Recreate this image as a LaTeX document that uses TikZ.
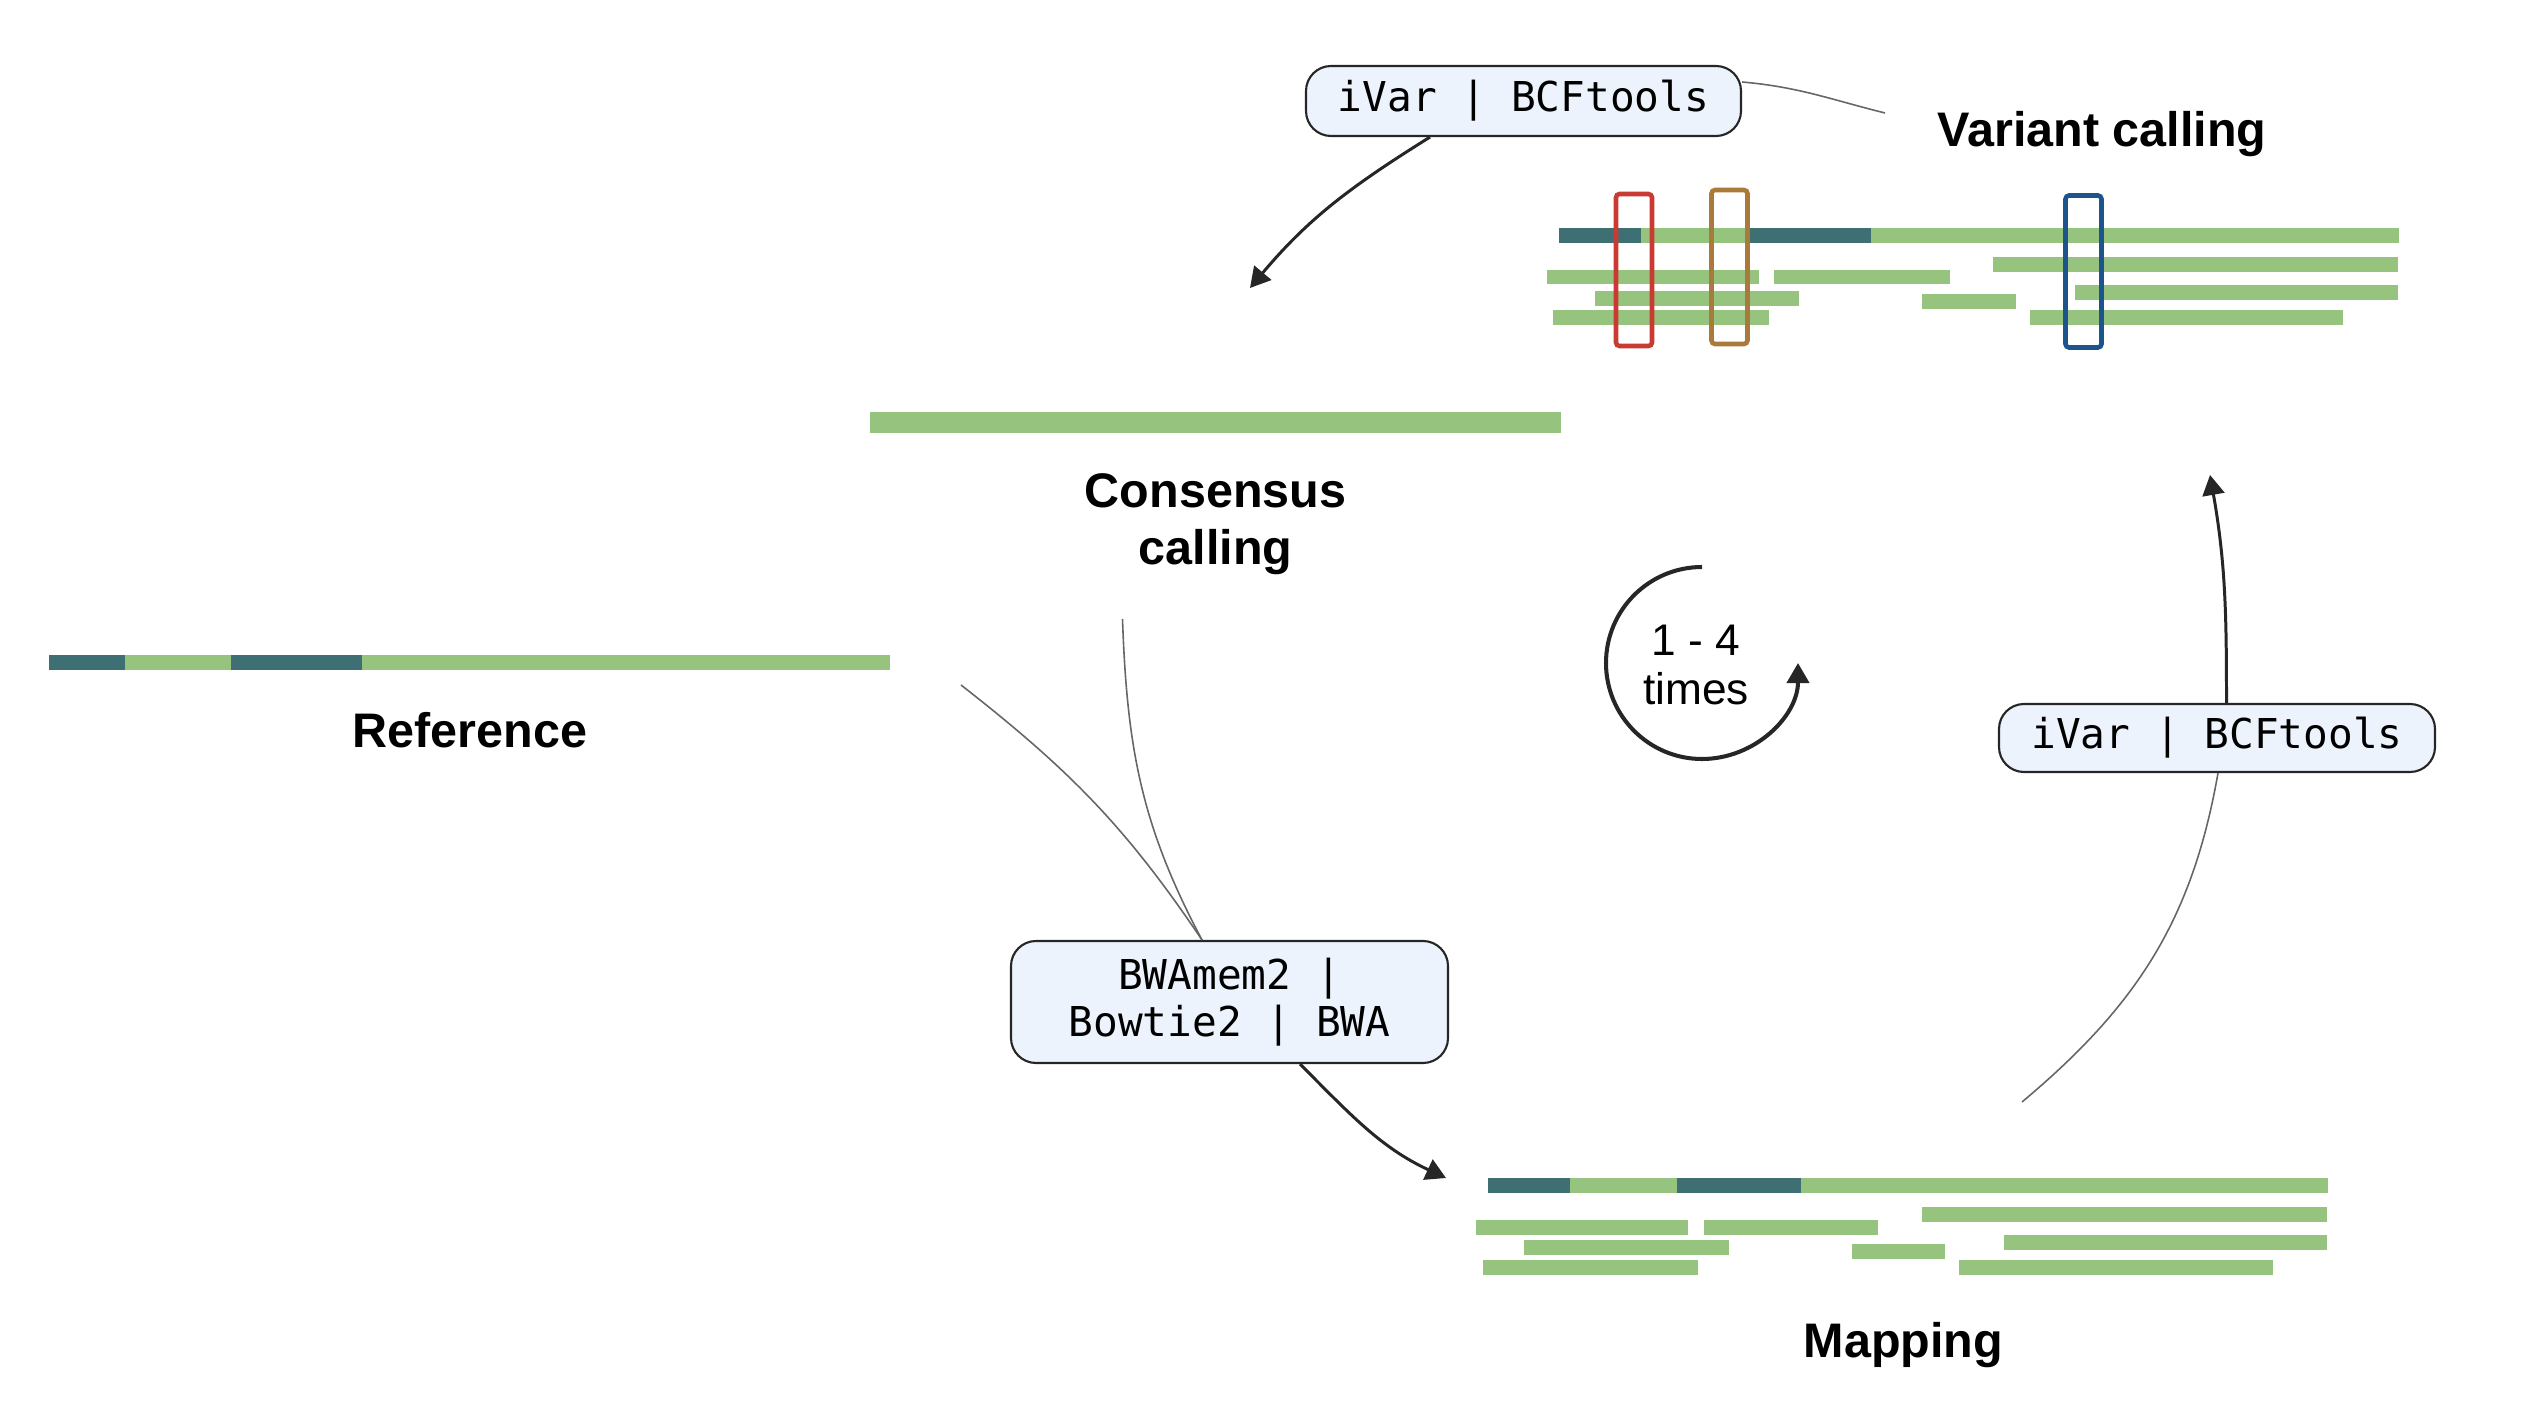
\documentclass[tikz,border=0pt]{standalone}
\usepackage{fontspec}
\setmainfont{Liberation Sans}
\setmonofont{DejaVu Sans Mono}
\usepackage{tikz}
\usetikzlibrary{arrows.meta}
\usetikzlibrary{positioning}

\definecolor{readgreen}{RGB}{150,196,127}
\definecolor{readteal}{RGB}{62,112,115}
\definecolor{snpred}{RGB}{200,58,50}
\definecolor{snporange}{RGB}{170,122,58}
\definecolor{snpblue}{RGB}{28,84,140}
\definecolor{toolfill}{RGB}{236,243,252}

\tikzset{
  readbar/.style={rectangle, inner sep=0pt, outer sep=0pt, minimum height=0.15cm, anchor=west},
  greenbar/.style={readbar, fill=readgreen},
  tealbar/.style={readbar, fill=readteal},
  snpbox/.style={rectangle, line width=1.3pt, rounded corners=1pt, minimum width=0.36cm, minimum height=1.52cm},
  toolbox/.style={rectangle, draw=black!85, line width=0.6pt, fill=toolfill, rounded corners=0.25cm, align=center, minimum width=4.35cm, font=\fontsize{11.7pt}{13.4pt}\selectfont\ttfamily},
  steplabel/.style={align=center, font=\fontsize{13.8pt}{16.3pt}\selectfont\bfseries},
  tail/.style={line width=0.45pt, black!60},
  flow/.style={line width=0.85pt, black!85}
}

\begin{document}
\begin{tikzpicture}

\useasboundingbox (0,0) rectangle (25.22,14.16);

\node at (0.49,7.535)[tealbar, minimum width=0.76cm] (ref1) {};
\node at (1.25,7.535)[greenbar, minimum width=1.06cm] (ref2) {};
\node at (2.31,7.535)[tealbar, minimum width=1.31cm] (ref3) {};
\node at (3.62,7.535)[greenbar, minimum width=5.28cm] (ref4) {};
\node at (4.70,6.86)[steplabel] (reflabel) {Reference};

\node at (8.70,9.935)[greenbar, minimum width=6.91cm, minimum height=0.21cm] (cons) {};
\node at (12.155,8.92)[steplabel] (conslabel) {Consensus\\calling};

\node at (15.59,11.805)[tealbar, minimum width=0.82cm] (v0a) {};
\node at (16.41,11.805)[greenbar, minimum width=1.08cm] (v0b) {};
\node at (17.49,11.805)[tealbar, minimum width=1.22cm] (v0c) {};
\node at (18.71,11.805)[greenbar, minimum width=5.28cm] (v0d) {};
\node at (19.93,11.515)[greenbar, minimum width=4.05cm] (v1a) {};
\node at (15.47,11.39)[greenbar, minimum width=2.12cm] (v2a) {};
\node at (17.74,11.39)[greenbar, minimum width=1.76cm] (v2b) {};
\node at (20.75,11.235)[greenbar, minimum width=3.23cm] (v3a) {};
\node at (15.95,11.18)[greenbar, minimum width=2.04cm] (v3b) {};
\node at (19.22,11.145)[greenbar, minimum width=0.94cm] (v3c) {};
\node at (15.53,10.985)[greenbar, minimum width=2.16cm] (v4a) {};
\node at (20.30,10.985)[greenbar, minimum width=3.13cm] (v4b) {};
\node at (16.34,11.46)[snpbox, draw=snpred] (snp1) {};
\node at (17.295,11.49)[snpbox, draw=snporange, minimum height=1.54cm] (snp2) {};
\node at (20.835,11.445)[snpbox, draw=snpblue] (snp3) {};
\node at (21.02,12.82)[steplabel] (varlabel) {Variant calling};

\node at (14.88,2.305)[tealbar, minimum width=0.82cm] (m0a) {};
\node at (15.70,2.305)[greenbar, minimum width=1.07cm] (m0b) {};
\node at (16.77,2.305)[tealbar, minimum width=1.24cm] (m0c) {};
\node at (18.01,2.305)[greenbar, minimum width=5.27cm] (m0d) {};
\node at (19.22,2.02)[greenbar, minimum width=4.05cm] (m1a) {};
\node at (14.76,1.89)[greenbar, minimum width=2.12cm] (m2a) {};
\node at (17.04,1.89)[greenbar, minimum width=1.74cm] (m2b) {};
\node at (20.04,1.735)[greenbar, minimum width=3.23cm] (m3a) {};
\node at (15.24,1.685)[greenbar, minimum width=2.05cm] (m3b) {};
\node at (18.52,1.645)[greenbar, minimum width=0.93cm] (m3c) {};
\node at (14.83,1.49)[greenbar, minimum width=2.15cm] (m4a) {};
\node at (19.59,1.49)[greenbar, minimum width=3.14cm] (m4b) {};
\node at (19.035,0.71)[steplabel] (maplabel) {Mapping};

\node at (15.235,13.15)[toolbox, minimum height=0.70cm] (ivar1) {iVar | BCFtools};
\node at (22.17,6.78)[toolbox, minimum width=4.36cm, minimum height=0.68cm] (ivar2) {iVar | BCFtools};
\node at (12.295,4.14)[toolbox, minimum width=4.37cm, minimum height=1.22cm] (bwa) {BWAmem2 |\\Bowtie2 | BWA};

\coordinate (loopc) at (17.02,7.53);
\node at (16.96,7.51)[align=center, font=\fontsize{12.6pt}{14.2pt}\selectfont] (times) {1 - 4\\times};

\coordinate (reftail) at (9.61,7.31);
\coordinate (constail) at (11.225,7.97);
\coordinate (maptail) at (20.22,3.14);
\coordinate (vartail) at (18.85,13.03);
\coordinate (maptip) at (14.46,2.38);
\coordinate (vartip) at (22.10,9.41);
\coordinate (constip) at (12.50,11.28);

\draw [tail] (reftail) to [out=-38, in=124] ([xshift=-0.275cm]bwa.north);
\draw [tail] (constail) to [out=-88, in=118] ([xshift=-0.275cm]bwa.north);
\draw [tail] (maptail) to [out=40, in=-100] ([xshift=0.01cm]ivar2.south);
\draw [tail] (vartail) to [out=166, in=-5] ([yshift=0.19cm]ivar1.east);

\begin{scope}[>={Triangle[length=2mm,width=2.2mm]}]
	\draw [flow, ->] ([xshift=0.705cm]bwa.south) to [out=-45, in=155] (maptip);
	\draw [flow, ->] ([xshift=0.095cm]ivar2.north) to [out=90, in=-80] (vartip);
	\draw [flow, ->] ([xshift=-0.935cm]ivar1.south) to [out=212, in=50] (constip);
	\draw [line width=1.15pt, black!85, ->] ([yshift=0.96cm]loopc) arc [start angle=90, end angle=360, radius=0.96cm];
\end{scope}

\end{tikzpicture}
\end{document}
